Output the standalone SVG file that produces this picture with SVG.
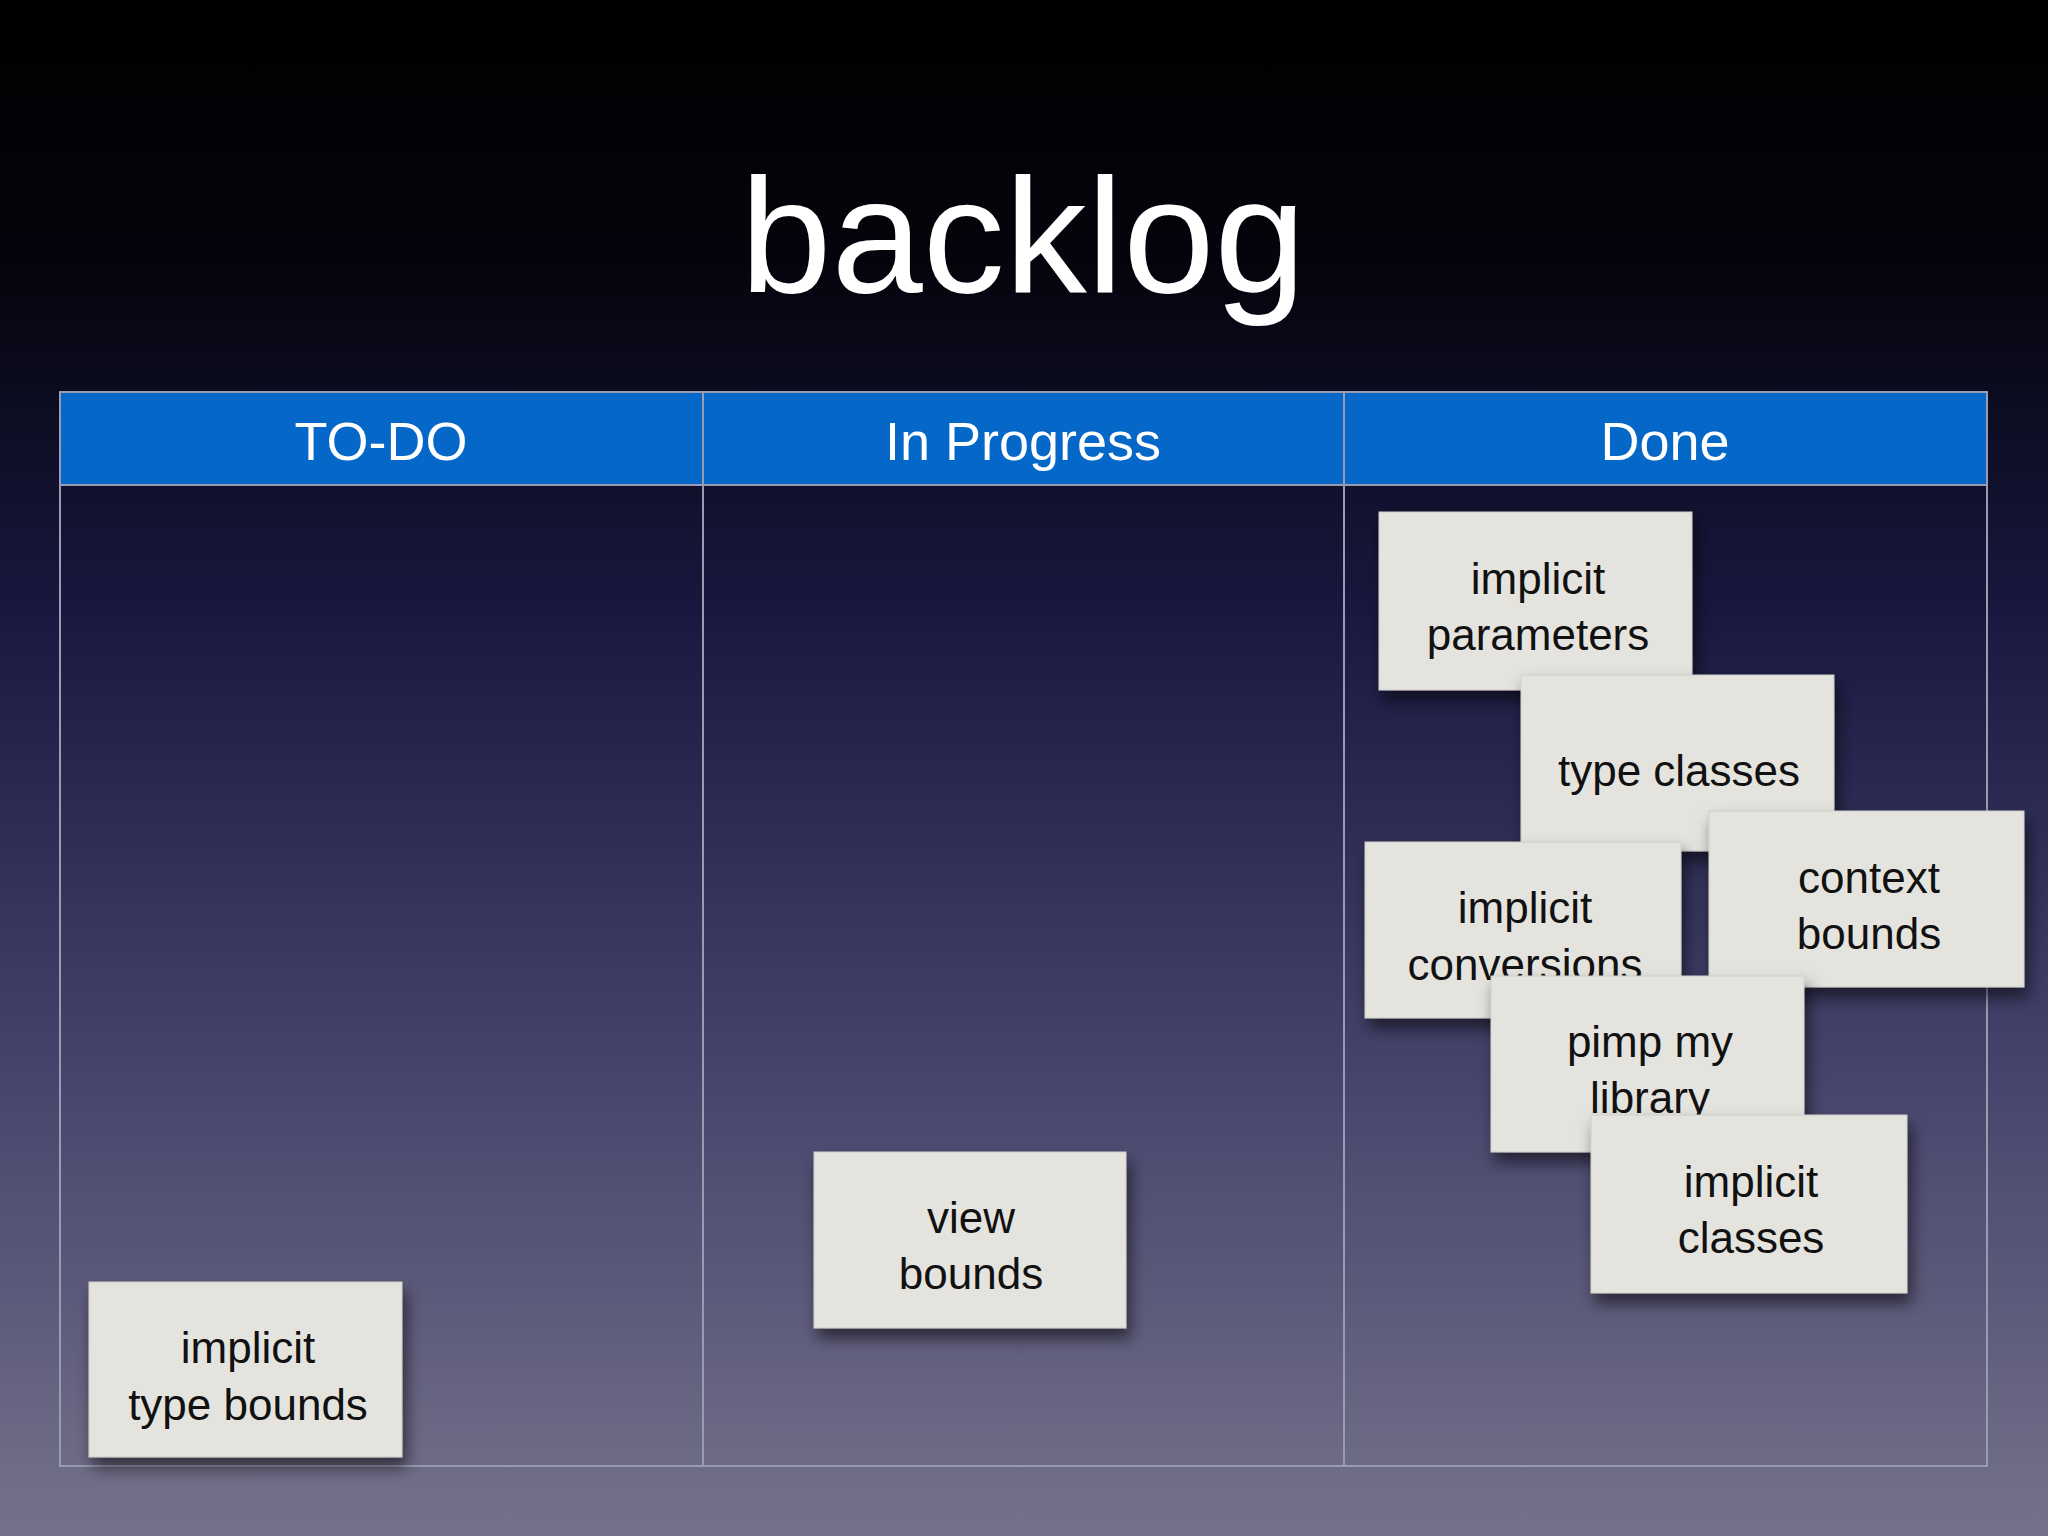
<svg xmlns="http://www.w3.org/2000/svg" width="2048" height="1536" viewBox="0 0 2048 1536">
<defs>
<linearGradient id="bg" x1="0" y1="0" x2="0" y2="1">
<stop offset="0" stop-color="#000000"/>
<stop offset="0.17" stop-color="#04040c"/>
<stop offset="0.4" stop-color="#181840"/>
<stop offset="0.7" stop-color="#46446c"/>
<stop offset="1" stop-color="#74728a"/>
</linearGradient>
<filter id="sh" x="-10%" y="-10%" width="130%" height="140%">
<feDropShadow dx="4" dy="10" stdDeviation="8" flood-color="#000" flood-opacity="0.55"/>
</filter>
<style>
.card{fill:#e5e3de;stroke:#cfcdc8;stroke-width:1;filter:url(#sh)}
.ct{font-family:"Liberation Sans",Arial,sans-serif;font-size:44px;fill:#111;text-anchor:middle}
.hd{font-family:"Liberation Sans",Arial,sans-serif;font-size:54px;fill:#fff;text-anchor:middle}
.ln{stroke:#9a9ab0;stroke-width:2;fill:none}
</style>
</defs>
<rect width="2048" height="1536" fill="url(#bg)"/>
<text x="1023" y="292" font-family="'Liberation Sans',Arial,sans-serif" font-size="164" fill="#fff" text-anchor="middle">backlog</text>
<g id="table">
<rect x="60" y="392" width="1927" height="93" fill="#0567c7"/>
<rect class="ln" x="60" y="392" width="1927" height="1074"/>
<line class="ln" x1="60" y1="485" x2="1987" y2="485"/>
<line class="ln" x1="703" y1="392" x2="703" y2="1466"/>
<line class="ln" x1="1344" y1="392" x2="1344" y2="1466"/>
<text class="hd" x="381" y="460">TO-DO</text>
<text class="hd" x="1023" y="460">In Progress</text>
<text class="hd" x="1665" y="460">Done</text>
</g>
<g id="card-params"><rect class="card" x="1379" y="512" width="313" height="178"/><text class="ct" x="1538" y="594">implicit</text><text class="ct" x="1538" y="650">parameters</text></g>
<g id="card-typeclasses"><rect class="card" x="1521" y="675" width="313" height="176"/><text class="ct" x="1679" y="786">type classes</text></g>
<g id="card-conversions"><rect class="card" x="1365" y="842" width="316" height="176"/><text class="ct" x="1525" y="923">implicit</text><text class="ct" x="1525" y="980">conversions</text></g>
<g id="card-context"><rect class="card" x="1709" y="811" width="315" height="176"/><text class="ct" x="1869" y="893">context</text><text class="ct" x="1869" y="949">bounds</text></g>
<g id="card-pimp"><rect class="card" x="1491" y="976" width="313" height="176"/><text class="ct" x="1650" y="1057">pimp my</text><text class="ct" x="1650" y="1113">library</text></g>
<g id="card-classes"><rect class="card" x="1591" y="1115" width="316" height="178"/><text class="ct" x="1751" y="1197">implicit</text><text class="ct" x="1751" y="1253">classes</text></g>
<g id="card-view"><rect class="card" x="814" y="1152" width="312" height="176"/><text class="ct" x="971" y="1233">view</text><text class="ct" x="971" y="1289">bounds</text></g>
<g id="card-typebounds"><rect class="card" x="89" y="1282" width="313" height="175"/><text class="ct" x="248" y="1363">implicit</text><text class="ct" x="248" y="1420">type bounds</text></g>
<g id="connectors"/>
</svg>
